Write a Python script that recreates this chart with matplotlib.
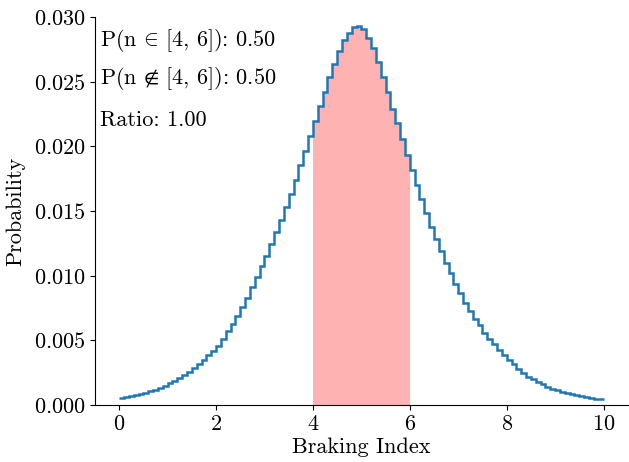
import numpy as np
import matplotlib
matplotlib.use("Agg")
import matplotlib.pyplot as plt

# bin edges of the braking index histogram (0 to 10, 100 bins)
edges = np.linspace(0, 10, 101)

# probability per bin
prob = [
    0.00052, 0.00060, 0.00068, 0.00077, 0.00086, 0.00096, 0.00108, 0.00121, 0.00135, 0.00150,
    0.00168, 0.00188, 0.00209, 0.00232, 0.00258, 0.00288, 0.00318, 0.00352, 0.00388, 0.00420,
    0.00460, 0.00510, 0.00570, 0.00630, 0.00690, 0.00760, 0.00825, 0.00914, 0.00991, 0.01074,
    0.01157, 0.01245, 0.01337, 0.01435, 0.01533, 0.01636, 0.01744, 0.01855, 0.01966, 0.02080,
    0.02198, 0.02310, 0.02420, 0.02540, 0.02640, 0.02740, 0.02820, 0.02880, 0.02920, 0.02930,
    0.02910, 0.02840, 0.02760, 0.02650, 0.02540, 0.02420, 0.02290, 0.02180, 0.02060, 0.01932,
    0.01816, 0.01700, 0.01590, 0.01482, 0.01378, 0.01283, 0.01190, 0.01100, 0.01018, 0.00940,
    0.00868, 0.00791, 0.00730, 0.00670, 0.00620, 0.00560, 0.00510, 0.00470, 0.00430, 0.00390,
    0.00350, 0.00320, 0.00280, 0.00250, 0.00220, 0.00200, 0.00180, 0.00160, 0.00140, 0.00128,
    0.00116, 0.00104, 0.00094, 0.00085, 0.00077, 0.00070, 0.00063, 0.00057, 0.00051, 0.00046,
]

lo, hi = 4, 6
p_in = 0.50
p_out = 0.50
ratio = 1.00

plt.rcParams['font.family'] = 'serif'
plt.rcParams['font.serif'] = ['cmr10']
plt.rcParams['mathtext.fontset'] = 'cm'
plt.rcParams['axes.formatter.use_mathtext'] = True
plt.rcParams['font.size'] = 16

fig = plt.figure(figsize=(6.29, 4.62), dpi=100)
ax = fig.add_axes([0.151, 0.123, 0.847, 0.84])

prob = np.array(prob)
mask = (edges[:-1] >= lo) & (edges[1:] <= hi)
sel = np.where(mask)[0]
ax.stairs(prob[sel], edges[sel[0]:sel[-1] + 2], fill=True, color='red', alpha=0.3, linewidth=0)
ax.stairs(prob, edges, baseline=None, color='tab:blue', linewidth=1.8)

ax.set_xlim(-0.5, 10.5)
ax.set_ylim(0, 0.030)
ax.set_xlabel('Braking Index', labelpad=2)
ax.set_ylabel('Probability', labelpad=6)
ax.spines['top'].set_visible(False)
ax.spines['right'].set_visible(False)

ax.text(0.01, 0.94, r'P(n$\,\in\,$[%d, %d]): %.2f' % (lo, hi, p_in), transform=ax.transAxes, va='center')
ax.text(0.01, 0.843, r'P(n$\,\notin\,$[%d, %d]): %.2f' % (lo, hi, p_out), transform=ax.transAxes, va='center')
ax.text(0.01, 0.735, 'Ratio: %.2f' % ratio, transform=ax.transAxes, va='center')

fig.savefig('out.png', dpi=100)
